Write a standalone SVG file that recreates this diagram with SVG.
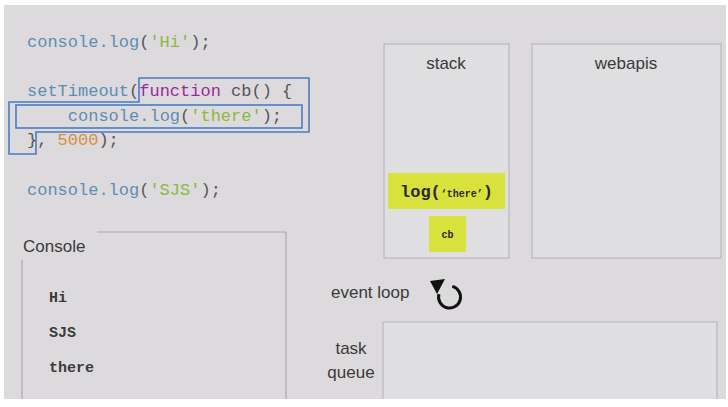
<svg xmlns="http://www.w3.org/2000/svg" width="728" height="407" viewBox="0 0 728 407">
  <style>
    .code { font-family: "Liberation Mono", "Courier New", monospace; font-size: 17px; fill: #555; }
    .kw { fill: #5d8db4; }
    .str { fill: #8bb940; }
    .fn { fill: #9c2a9c; }
    .num { fill: #d8903c; }
    .hl { fill: none; stroke: #4a7cc4; stroke-width: 1.6; }
    .panel { fill: #dfdee1; stroke: #b9b8bb; stroke-width: 1.2; }
    .label { font-family: "Liberation Sans", Arial, sans-serif; font-size: 17px; fill: #3a3a3a; }
    .out { font-family: "Liberation Mono", "Courier New", monospace; font-size: 15px; font-weight: bold; fill: #3a3a3a; }
    .frame { fill: #d9e23c; }
    .frametext { font-family: "Liberation Mono", "Courier New", monospace; font-weight: bold; fill: #2a2a2a; }
    .line { stroke: #a9a8ab; stroke-width: 1.2; fill: none; }
  </style>
  <rect x="0" y="0" width="728" height="407" fill="#ffffff"/>
  <rect x="4" y="5" width="722" height="394" fill="#dcdadd"/>

  <g id="code">
    <text class="code" x="27" y="47"><tspan class="kw">console.log</tspan>(<tspan class="str">'Hi'</tspan>);</text>
    <text class="code" x="27" y="96"><tspan class="kw">setTimeout</tspan>(<tspan class="fn">function</tspan> cb() {</text>
    <text class="code" x="27" y="121" xml:space="preserve">    <tspan class="kw">console.log</tspan>(<tspan class="str">'there'</tspan>);</text>
    <text class="code" x="27" y="145">}, <tspan class="num">5000</tspan>);</text>
    <text class="code" x="27" y="195"><tspan class="kw">console.log</tspan>(<tspan class="str">'SJS'</tspan>);</text>
  </g>

  <g id="highlight-function">
    <polygon class="hl" points="139,78 309,78 309,132 36,132 36,154 9,154 9,102 139,102"/>
  </g>
  <g id="highlight-log">
    <rect class="hl" x="16" y="105" width="286" height="23"/>
  </g>

  <g id="stack">
    <rect class="panel" x="384" y="44" width="125" height="214"/>
    <text class="label" x="446" y="69" text-anchor="middle">stack</text>
    <g id="frame-log">
      <rect class="frame" x="388" y="173" width="117" height="36"/>
      <text class="frametext" x="446.5" y="197" text-anchor="middle"><tspan font-size="17">log(</tspan><tspan font-size="10">‘there’</tspan><tspan font-size="17">)</tspan></text>
    </g>
    <g id="frame-cb">
      <rect class="frame" x="429" y="216" width="37" height="36"/>
      <text class="frametext" x="447.5" y="238" font-size="10" text-anchor="middle">cb</text>
    </g>
  </g>

  <g id="webapis">
    <rect class="panel" x="532" y="44" width="189" height="214"/>
    <text class="label" x="626" y="69" text-anchor="middle">webapis</text>
  </g>

  <g id="console">
    <polyline class="line" points="97,232 286,232 286,399"/>
    <line class="line" x1="22" y1="260" x2="22" y2="399"/>
    <text class="label" x="23" y="252">Console</text>
    <text class="out" x="49" y="302">Hi</text>
    <text class="out" x="49" y="337">SJS</text>
    <text class="out" x="49" y="372">there</text>
  </g>

  <g id="event-loop">
    <text class="label" x="331" y="298" font-size="16">event loop</text>
    <path d="M 452.3 286.4 A 11 11 0 1 1 438.9 294.2" fill="none" stroke="#111" stroke-width="3"/>
    <polygon points="430,281 445,279 437,294" fill="#111"/>
  </g>

  <g id="task-queue">
    <path d="M 383 399 L 383 322 L 717 322 L 717 399" fill="#dfdee1" stroke="#b9b8bb" stroke-width="1.2"/>
    <text class="label" x="351" y="354" font-size="16" text-anchor="middle">task</text>
    <text class="label" x="351" y="378" font-size="16" text-anchor="middle">queue</text>
  </g>

  <g id="connectors"></g>
</svg>
